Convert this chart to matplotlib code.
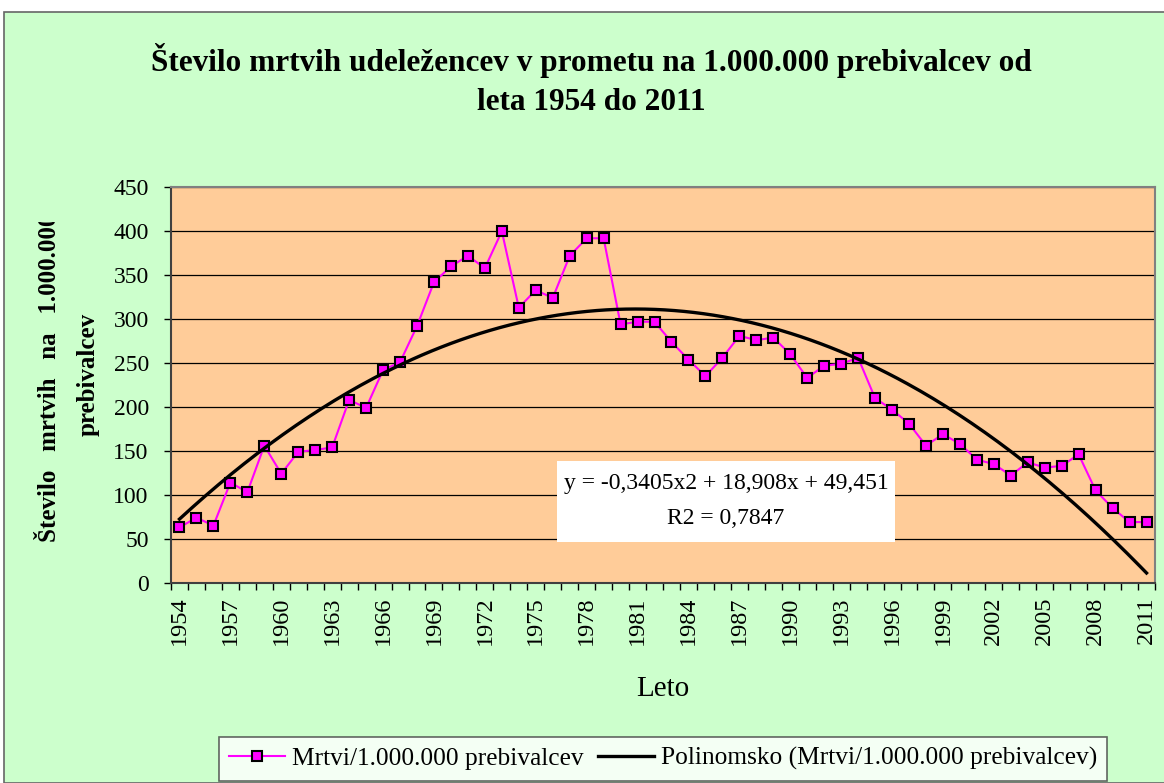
import numpy as np
import matplotlib
matplotlib.use("Agg")
import matplotlib.pyplot as plt
from matplotlib.patches import Rectangle
from matplotlib.transforms import Bbox

# Data
years = list(range(1954, 2012))
deaths = [63, 74, 65, 114, 103, 156, 124, 149, 151, 154,
          208, 199, 242, 251, 292, 342, 360, 372, 358, 400,
          313, 333, 324, 372, 392, 392, 294, 297, 297, 274,
          254, 235, 256, 281, 276, 279, 260, 233, 247, 249,
          256, 210, 197, 181, 156, 169, 158, 140, 135, 122,
          137, 131, 133, 146, 105, 85, 69, 69]
yticks = [0, 50, 100, 150, 200, 250, 300, 350, 400, 450]
xlabels = years[::3]

plt.rcParams['font.family'] = ['Liberation Serif', 'DejaVu Serif']

W, H = 1164, 783
fig = plt.figure(figsize=(W / 100, H / 100), dpi=100)
fig.patch.set_facecolor('white')
fig.patches.append(Rectangle((4 / W, 0), 1, 1 - 12 / H, transform=fig.transFigure,
                             facecolor='#CCFFCC', edgecolor='#666666', lw=1.2, zorder=-10))

ax = fig.add_axes([171 / W, 1 - 582.7 / H, (1155 - 171) / W, (582.7 - 187.3) / H])
ax.set_facecolor('#FFCC99')

# polynomial (2nd order) trend, like Excel
xi = np.arange(1, len(years) + 1)
coef = np.polyfit(xi, deaths, 2)
xf = np.linspace(1, len(years), 300)
trend = np.polyval(coef, xf)

ax.plot(years, deaths, color='#FF00FF', lw=1.5, marker='s', markersize=7.5,
        markerfacecolor='#FF00FF', markeredgecolor='black', markeredgewidth=1.5,
        label='Mrtvi/1.000.000 prebivalcev', zorder=3)
ax.plot(np.array(years[0]) - 1 + xf, trend, color='black', lw=2.4,
        label='Polinomsko (Mrtvi/1.000.000 prebivalcev)', zorder=4)

ax.set_xlim(years[0] - 0.5, years[-1] + 0.5)
ax.set_ylim(0, 450)
ax.set_yticks(yticks)
ax.yaxis.grid(True, color='black', lw=0.9)
ax.set_axisbelow(True)
ax.tick_params(axis='y', labelsize=17, length=5, width=1, direction='out', pad=11)

ax.set_xticks(xlabels)
ax.set_xticklabels([str(y) for y in xlabels], rotation=90)
ax.set_xticks(np.arange(years[0] - 0.5, years[-1] + 1.0, 1.0), minor=True)
ax.tick_params(axis='x', which='major', length=0, labelsize=17.5, pad=10)
ax.tick_params(axis='x', which='minor', length=5, width=1, direction='out')

for s in ['left', 'bottom']:
    ax.spines[s].set_color('#404040')
    ax.spines[s].set_linewidth(1.5)
for s in ['top', 'right']:
    ax.spines[s].set_color('#808080')
    ax.spines[s].set_linewidth(1.5)

ax.set_xlabel('Leto', fontsize=21, labelpad=22)

# y label, two lines, first one clipped at the top like in the original
t1 = fig.text(50 / W, 1 - 542 / H, 'Število   mrtvih   na   1.000.000', rotation=90,
              ha='center', va='bottom', fontsize=18, fontweight='bold')
t1.set_clip_box(Bbox.from_extents(0, 0, W, H - 222))
t1.set_clip_on(True)
fig.text(88 / W, 1 - 374 / H, 'prebivalcev', rotation=90, ha='center', va='center',
         fontsize=18, fontweight='bold')

fig.text(591 / W, 1 - 60 / H, 'Število mrtvih udeležencev v prometu na 1.000.000 prebivalcev od',
         ha='center', va='center', fontsize=22.5, fontweight='bold')
fig.text(591 / W, 1 - 102 / H, 'leta 1954 do 2011',
         ha='center', va='center', fontsize=22.5, fontweight='bold')

# trend equation box
fig.patches.append(Rectangle((557 / W, 1 - 542 / H), (895 - 557) / W, (542 - 461) / H,
                             transform=fig.transFigure, facecolor='white',
                             edgecolor='none', zorder=5))
fig.text(726 / W, 1 - 484 / H, 'y = -0,3405x2 + 18,908x + 49,451', ha='center', va='center',
         fontsize=17, zorder=6)
fig.text(726 / W, 1 - 518 / H, 'R2 = 0,7847', ha='center', va='center', fontsize=17, zorder=6)

leg = fig.legend(loc='upper left', bbox_to_anchor=(219 / W, 1 - 737 / H), ncol=2,
                 fontsize=18.3, frameon=True, fancybox=False, borderaxespad=0,
                 handlelength=2.2, columnspacing=0.55, handletextpad=0.28,
                 borderpad=0.4)
leg.get_frame().set_edgecolor('#404040')
leg.get_frame().set_linewidth(1.2)

fig.savefig('out.png', dpi=100)
